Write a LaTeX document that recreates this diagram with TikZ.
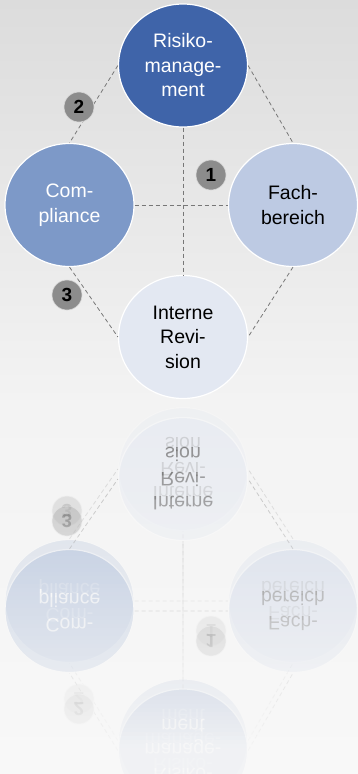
\documentclass[tikz,border=0pt]{standalone}
\usepackage{fontspec}
\setmainfont{Liberation Sans}
\usetikzlibrary{shapes.geometric}

\definecolor{bgtop}{HTML}{DCDCDC}
\definecolor{bgmid}{HTML}{F3F3F3}
\definecolor{bgbot}{HTML}{F8F8F8}
\definecolor{risk}{HTML}{3F64A9}
\definecolor{comp}{HTML}{7D99C8}
\definecolor{dept}{HTML}{BDCAE3}
\definecolor{audit}{HTML}{E3E8F2}
\definecolor{link}{HTML}{777777}
\definecolor{badgefill}{HTML}{8C8C8C}

\tikzset{
  role/.style={ellipse, minimum width=129pt, minimum height=123pt, inner sep=0pt,
    draw=white, line width=1.2pt, align=center,
    font=\fontsize{19.5}{24.5}\selectfont},
  rel/.style={draw=link, dash pattern=on 4pt off 3pt, line width=0.8pt},
  badge/.style={circle, minimum size=30pt, inner sep=0pt, fill=badgefill,
    draw=white!65!badgefill, line width=0.6pt,
    font=\fontsize{19}{19}\selectfont\bfseries},
}

% the four roles, their relations and the numbered markers
\newcommand\RoleDiagram{%
  \node[role, fill=risk, text=white] (rm) at (183,65.5) {Risiko-\\manage-\\ment};
  \node[role, fill=comp, text=white] (co) at (69.5,205) {Com-\\pliance};
  \node[role, fill=dept, text=black] (fb) at (293,205) {Fach-\\bereich};
  \node[role, fill=audit, text=black] (ir) at (183,337) {Interne\\Revi-\\sion};
  \draw[rel] (rm.south) -- (ir.north);
  \draw[rel] (co.east) -- (fb.west);
  \draw[rel] (rm.west) -- (co.north);
  \draw[rel] (rm.east) -- (fb.north);
  \draw[rel] (co.south) -- (ir.west);
  \draw[rel] (fb.south) -- (ir.east);
  \node[badge] (b1) at (211,175) {1};
  \node[badge] (b2) at (79,107) {2};
  \node[badge] (b3) at (67,295) {3};
}

\begin{document}
\begin{tikzpicture}[x=1pt,y=-1pt]
  \useasboundingbox (0,0) rectangle (358,774);
  % backdrop: grey at the top, brightening downwards
  \shade[top color=bgtop, bottom color=bgmid] (0,0) rectangle (358,401);
  \shade[top color=bgmid, bottom color=bgbot] (0,400) rectangle (358,774);

  % faint ghost of the reflection
  \begin{scope}[opacity=0.25, transparency group, shift={(0,806)}, yscale=-1,
      transform shape, name prefix=ghost-]
    \RoleDiagram
  \end{scope}
  % main reflection
  \begin{scope}[opacity=0.45, transparency group, shift={(0,816)}, yscale=-1,
      transform shape, name prefix=mirror-]
    \RoleDiagram
  \end{scope}

  % veil of background colour, thickening downwards, fades the reflection out
  \foreach \i in {0,...,93}{
    \pgfmathsetmacro\ytop{400+4*\i}
    \pgfmathsetmacro\mixpct{min(100,(\ytop+2-400)/374*100)}
    \pgfmathsetmacro\veil{min(0.93,(\i+0.5)/94)}
    \fill[bgbot!\mixpct!bgmid, fill opacity=\veil] (0,\ytop) rectangle (358,\ytop+4);
  }

  \RoleDiagram
\end{tikzpicture}
\end{document}
